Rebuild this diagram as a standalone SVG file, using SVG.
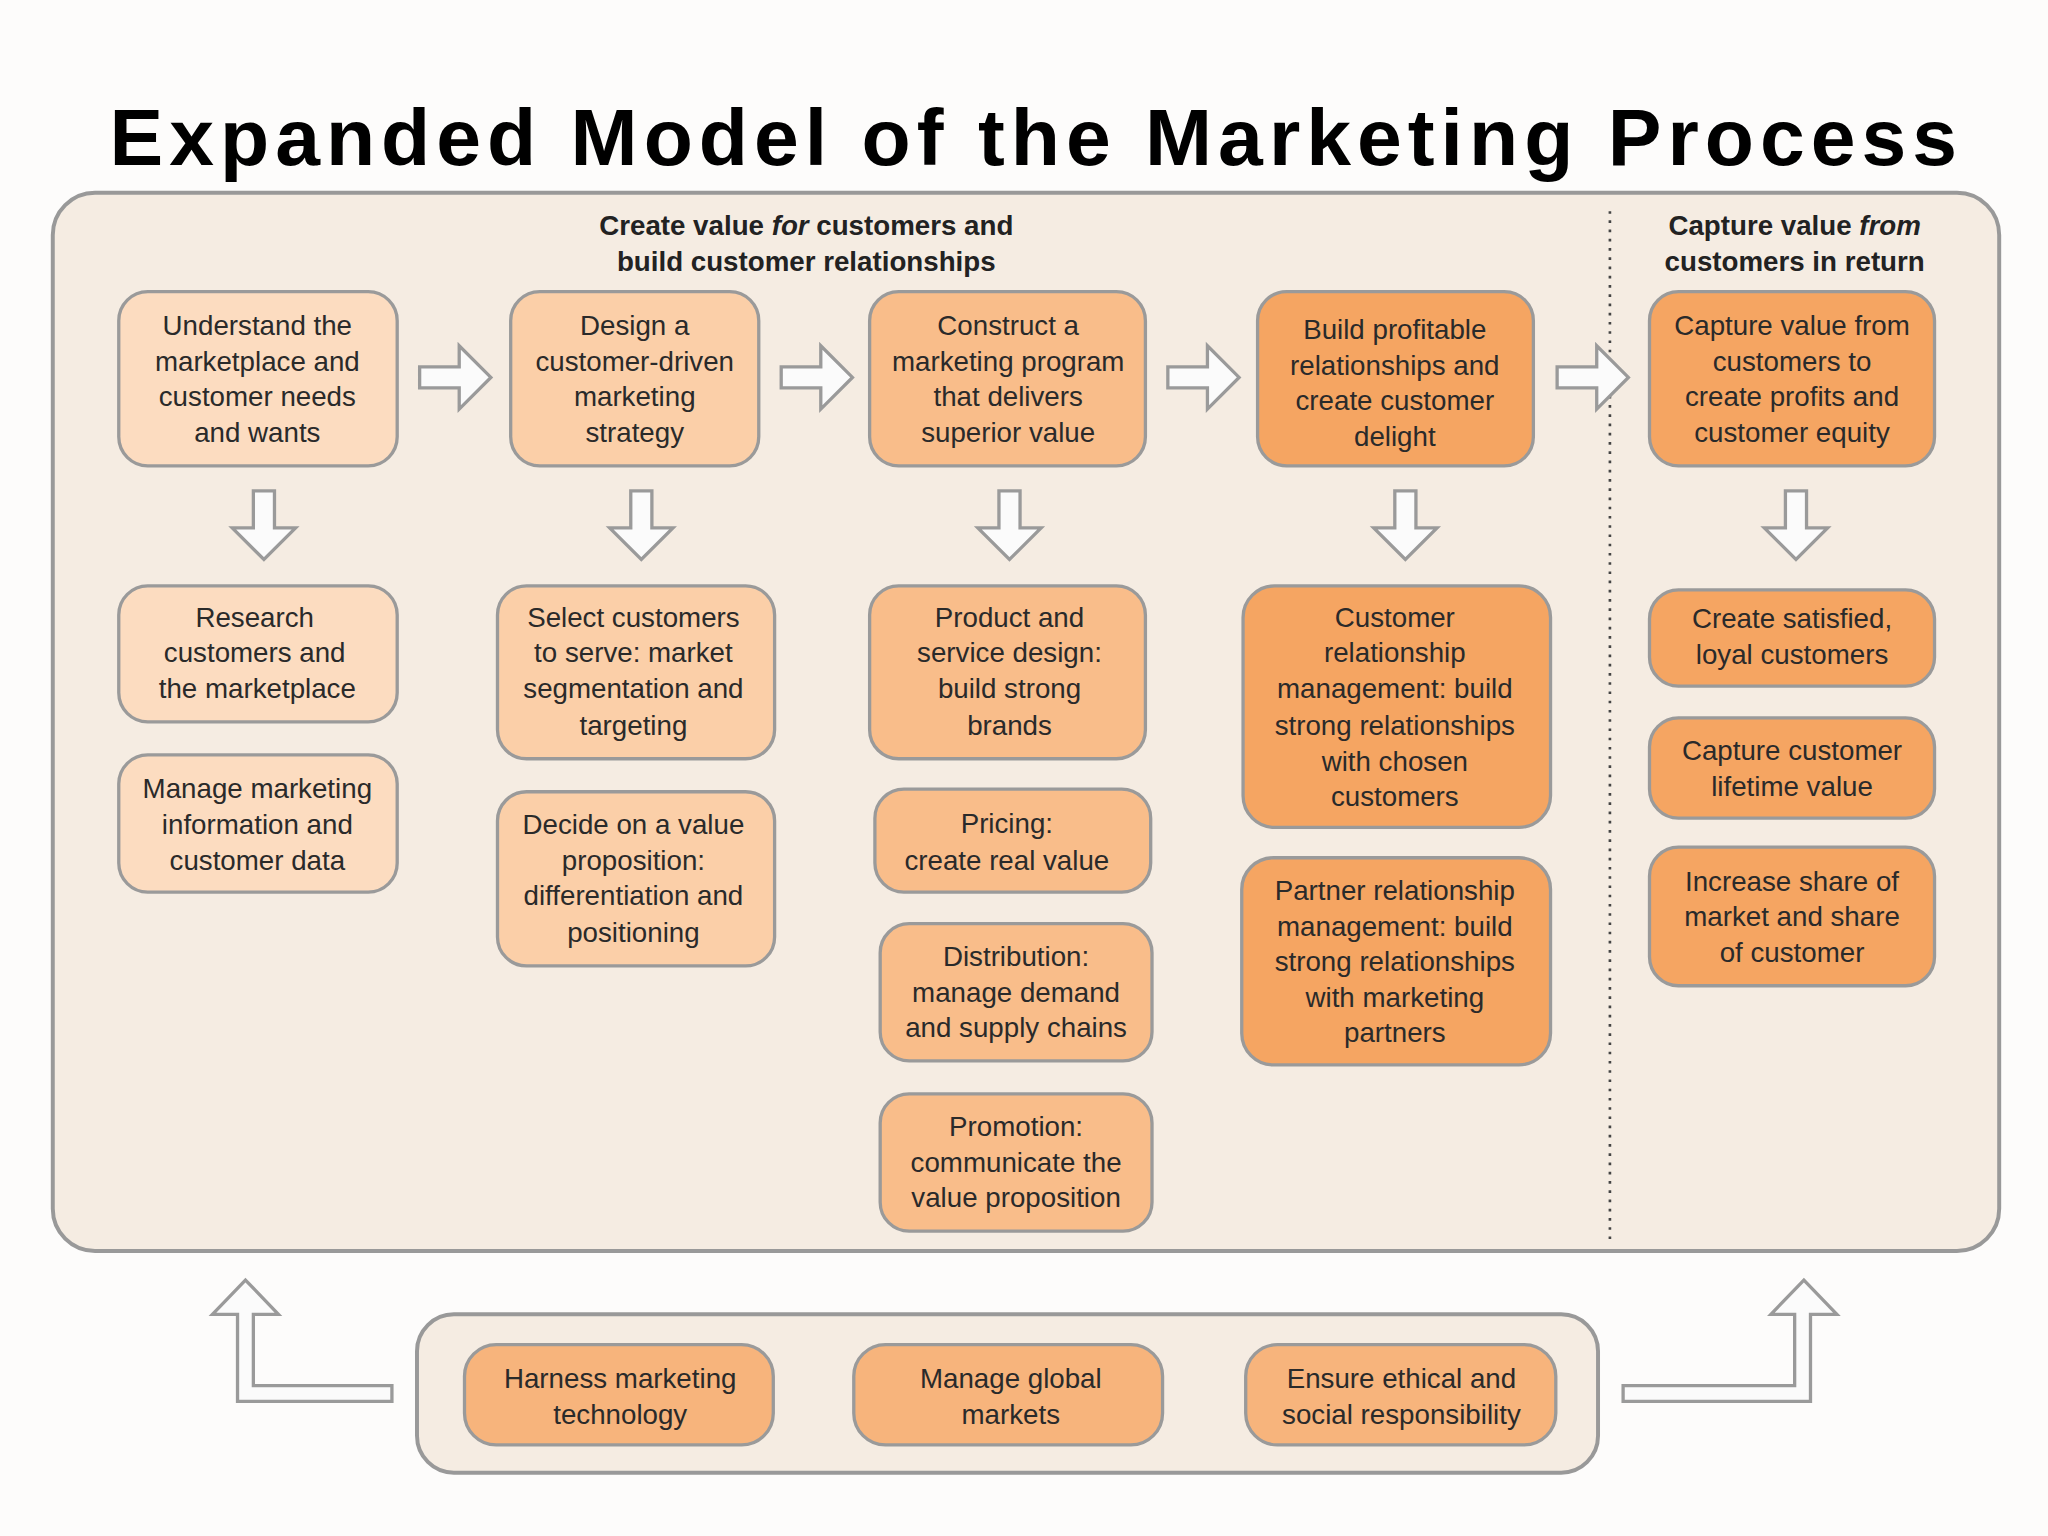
<svg xmlns="http://www.w3.org/2000/svg" width="2048" height="1536" viewBox="0 0 2048 1536">
<style>
.t{font-family:"Liberation Sans",Arial,sans-serif;font-size:21px;fill:#2a2a2a;text-anchor:middle}
.h{font-family:"Liberation Sans",Arial,sans-serif;font-size:21px;fill:#222;text-anchor:middle;font-weight:bold}
.b{stroke:#9a9a9a;stroke-width:2.5}
.c1{fill:#fcdcc0}.c2{fill:#fbcfa8}.c3{fill:#f9bd8a}.c4{fill:#f5a562}.c5{fill:#f7b47c}
.ar{fill:#fbfbfb;stroke:#9a9a9a;stroke-width:2.5;stroke-linejoin:miter}
</style>
<defs>
<polygon id="ra" points="0,-8 30,-8 30,-24 54,0 30,24 30,8 0,8"/>
<polygon id="da" points="-8,0 8,0 8,28 24,28 0,52 -24,28 -8,28"/>
</defs>
<rect width="2048" height="1536" fill="#fdfcfb"/>
<g transform="scale(1.3196)">
<text x="783" y="125" font-family="Liberation Sans,Arial,sans-serif" font-weight="bold" font-size="61" text-anchor="middle" textLength="1400" fill="#000">Expanded Model of the Marketing Process</text>
<g id="main">
<rect x="40" y="146" width="1475" height="802" rx="32" fill="#f5ece2" stroke="#999" stroke-width="3"/>
<text class="h" x="611" y="178">Create value <tspan font-style="italic">for</tspan> customers and</text>
<text class="h" x="611" y="205">build customer relationships</text>
<text class="h" x="1360" y="178">Capture value <tspan font-style="italic">from</tspan></text>
<text class="h" x="1360" y="205">customers in return</text>
<line x1="1220" y1="160" x2="1220" y2="940" stroke="#444" stroke-width="2" stroke-dasharray="2,5"/>
</g>
<g id="connectors">
<use href="#ra" x="318" y="286" class="ar"/>
<use href="#ra" x="592" y="286" class="ar"/>
<use href="#ra" x="885" y="286" class="ar"/>
<use href="#ra" x="1180" y="286" class="ar"/>
<use href="#da" x="200" y="372" class="ar"/>
<use href="#da" x="486" y="372" class="ar"/>
<use href="#da" x="765" y="372" class="ar"/>
<use href="#da" x="1065" y="372" class="ar"/>
<use href="#da" x="1361" y="372" class="ar"/>
<polygon class="ar" points="297,1050 192,1050 192,996 211,996 186,970 161,996 180,996 180,1062 297,1062"/>
<polygon class="ar" points="1230,1050 1360,1050 1360,996 1342,996 1367,970 1392,996 1372,996 1372,1062 1230,1062"/>
</g>
<g id="n1"><rect class="b c1" x="90" y="221" width="211" height="132" rx="22"/><text class="t" x="195" y="254">Understand the</text><text class="t" x="195" y="281">marketplace and</text><text class="t" x="195" y="308">customer needs</text><text class="t" x="195" y="335">and wants</text></g>
<g id="n2"><rect class="b c2" x="387" y="221" width="188" height="132" rx="22"/><text class="t" x="481" y="254">Design a</text><text class="t" x="481" y="281">customer-driven</text><text class="t" x="481" y="308">marketing</text><text class="t" x="481" y="335">strategy</text></g>
<g id="n3"><rect class="b c3" x="659" y="221" width="209" height="132" rx="22"/><text class="t" x="764" y="254">Construct a</text><text class="t" x="764" y="281">marketing program</text><text class="t" x="764" y="308">that delivers</text><text class="t" x="764" y="335">superior value</text></g>
<g id="n4"><rect class="b c4" x="953" y="221" width="209" height="132" rx="22"/><text class="t" x="1057" y="257">Build profitable</text><text class="t" x="1057" y="284">relationships and</text><text class="t" x="1057" y="311">create customer</text><text class="t" x="1057" y="338">delight</text></g>
<g id="n5"><rect class="b c4" x="1250" y="221" width="216" height="132" rx="22"/><text class="t" x="1358" y="254">Capture value from</text><text class="t" x="1358" y="281">customers to</text><text class="t" x="1358" y="308">create profits and</text><text class="t" x="1358" y="335">customer equity</text></g>
<g id="n6"><rect class="b c1" x="90" y="444" width="211" height="103" rx="22"/><text class="t" x="193" y="475">Research</text><text class="t" x="193" y="502">customers and</text><text class="t" x="195" y="529">the marketplace</text></g>
<g id="n7"><rect class="b c1" x="90" y="572" width="211" height="104" rx="22"/><text class="t" x="195" y="605">Manage marketing</text><text class="t" x="195" y="632">information and</text><text class="t" x="195" y="659">customer data</text></g>
<g id="n8"><rect class="b c2" x="377" y="444" width="210" height="131" rx="22"/><text class="t" x="480" y="475">Select customers</text><text class="t" x="480" y="502">to serve: market</text><text class="t" x="480" y="529">segmentation and</text><text class="t" x="480" y="557">targeting</text></g>
<g id="n9"><rect class="b c2" x="377" y="600" width="210" height="132" rx="22"/><text class="t" x="480" y="632">Decide on a value</text><text class="t" x="480" y="659">proposition:</text><text class="t" x="480" y="686">differentiation and</text><text class="t" x="480" y="714">positioning</text></g>
<g id="n10"><rect class="b c3" x="659" y="444" width="209" height="131" rx="22"/><text class="t" x="765" y="475">Product and</text><text class="t" x="765" y="502">service design:</text><text class="t" x="765" y="529">build strong</text><text class="t" x="765" y="557">brands</text></g>
<g id="n11"><rect class="b c3" x="663" y="598" width="209" height="78" rx="22"/><text class="t" x="763" y="631">Pricing:</text><text class="t" x="763" y="659">create real value</text></g>
<g id="n12"><rect class="b c3" x="667" y="700" width="206" height="104" rx="22"/><text class="t" x="770" y="732">Distribution:</text><text class="t" x="770" y="759">manage demand</text><text class="t" x="770" y="786">and supply chains</text></g>
<g id="n13"><rect class="b c3" x="667" y="829" width="206" height="104" rx="22"/><text class="t" x="770" y="861">Promotion:</text><text class="t" x="770" y="888">communicate the</text><text class="t" x="770" y="915">value proposition</text></g>
<g id="n14"><rect class="b c4" x="942" y="444" width="233" height="183" rx="24"/><text class="t" x="1057" y="475">Customer</text><text class="t" x="1057" y="502">relationship</text><text class="t" x="1057" y="529">management: build</text><text class="t" x="1057" y="557">strong relationships</text><text class="t" x="1057" y="584">with chosen</text><text class="t" x="1057" y="611">customers</text></g>
<g id="n15"><rect class="b c4" x="941" y="650" width="234" height="157" rx="24"/><text class="t" x="1057" y="682">Partner relationship</text><text class="t" x="1057" y="709">management: build</text><text class="t" x="1057" y="736">strong relationships</text><text class="t" x="1057" y="763">with marketing</text><text class="t" x="1057" y="790">partners</text></g>
<g id="n16"><rect class="b c4" x="1250" y="447" width="216" height="73" rx="22"/><text class="t" x="1358" y="476">Create satisfied,</text><text class="t" x="1358" y="503">loyal customers</text></g>
<g id="n17"><rect class="b c4" x="1250" y="544" width="216" height="76" rx="22"/><text class="t" x="1358" y="576">Capture customer</text><text class="t" x="1358" y="603">lifetime value</text></g>
<g id="n18"><rect class="b c4" x="1250" y="642" width="216" height="105" rx="22"/><text class="t" x="1358" y="675">Increase share of</text><text class="t" x="1358" y="702">market and share</text><text class="t" x="1358" y="729">of customer</text></g>
<g id="bottom"><rect x="316" y="996" width="895" height="120" rx="28" fill="#f5ece2" stroke="#999" stroke-width="3"/></g>
<g id="n19"><rect class="b c5" x="352" y="1019" width="234" height="76" rx="24"/><text class="t" x="470" y="1052">Harness marketing</text><text class="t" x="470" y="1079">technology</text></g>
<g id="n20"><rect class="b c5" x="647" y="1019" width="234" height="76" rx="24"/><text class="t" x="766" y="1052">Manage global</text><text class="t" x="766" y="1079">markets</text></g>
<g id="n21"><rect class="b c5" x="944" y="1019" width="235" height="76" rx="24"/><text class="t" x="1062" y="1052">Ensure ethical and</text><text class="t" x="1062" y="1079">social responsibility</text></g>
</g>
</svg>
